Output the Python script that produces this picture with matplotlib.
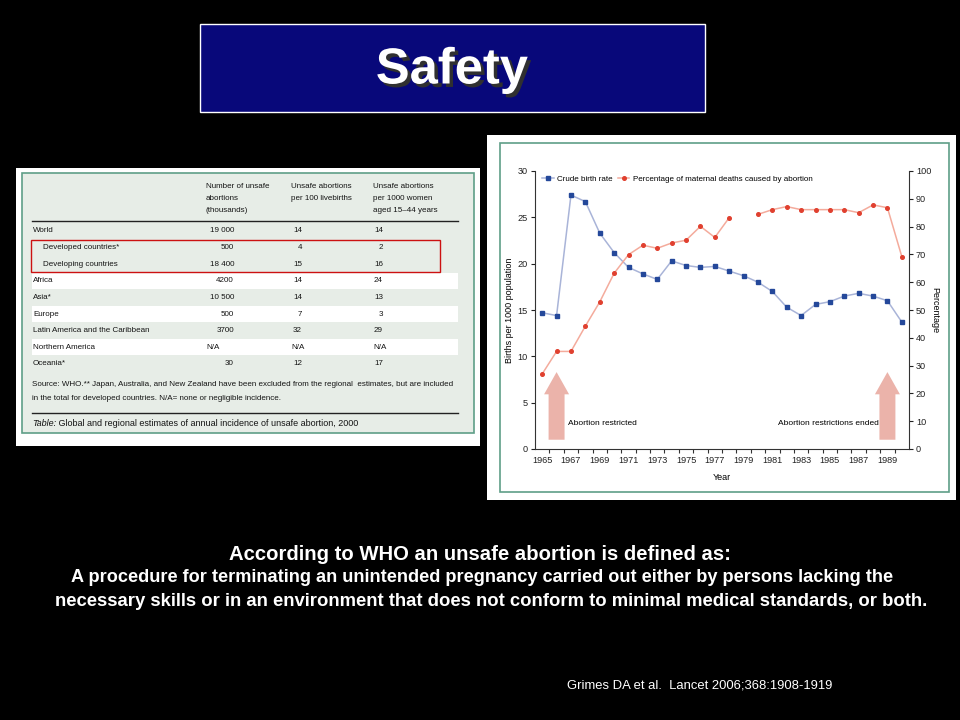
import numpy as np
import matplotlib.pyplot as plt
import matplotlib.patheffects as pe
from matplotlib.patches import Rectangle
from matplotlib.lines import Line2D

# chart data
years = list(range(1965, 1991))
birth_rate = [14.7, 14.4, 27.4, 26.7, 23.3, 21.2, 19.6, 18.9, 18.3, 20.3, 19.8, 19.6, 19.7,
              19.2, 18.7, 18.0, 17.0, 15.3, 14.4, 15.6, 15.9, 16.5, 16.8, 16.5, 16.0, 13.7]
maternal_pct = [27.0, 35.1, 35.1, 44.2, 52.9, 63.2, 69.9, 73.3, 72.2, 74.1, 75.1, 80.1, 76.1,
                83.2, np.nan, 84.4, 86.1, 87.2, 86.1, 86.1, 86.1, 86.1, 85.0, 87.8, 86.8, 69.2]
year_labels = [str(y) for y in range(1965, 1990, 2)]

# table data
regions = ['World', 'Developed countries*', 'Developing countries', 'Africa', 'Asia*',
           'Europe', 'Latin America and the Caribbean', 'Northern America', 'Oceania*']
n_unsafe = ['19 000', '500', '18 400', '4200', '10 500', '500', '3700', 'N/A', '30']
per_100_births = ['14', '4', '15', '14', '14', '7', '32', 'N/A', '12']
per_1000_women = ['14', '2', '16', '24', '13', '3', '29', 'N/A', '17']

NARROW = ['Liberation Sans Narrow', 'Liberation Sans', 'DejaVu Sans']
ARIAL = ['Liberation Sans', 'DejaVu Sans']

fig = plt.figure(figsize=(9.6, 7.2), dpi=100, facecolor='black')

# background layer in pixel coordinates
bg = fig.add_axes([0, 0, 1, 1])
bg.set_xlim(0, 960)
bg.set_ylim(720, 0)
bg.axis('off')

# title box
bg.add_patch(Rectangle((200, 24), 505, 88, fc='#08087a', ec='white', lw=1))
bg.text(452, 70, 'Safety', color='white', fontsize=36.5, fontweight='bold', family=ARIAL,
        ha='center', va='center',
        path_effects=[pe.SimplePatchShadow(offset=(2.5, -2.5), shadow_rgbFace='#303030', alpha=1),
                      pe.Normal()])

# table panel
green = '#5f9e88'
bg.add_patch(Rectangle((16, 168), 464, 278, fc='white', ec='none'))
bg.add_patch(Rectangle((22, 173), 452, 260, fc='#e7ede7', ec=green, lw=1.2))
for i in (3, 5, 7):
    yc = 231 + i * 16.6
    bg.add_patch(Rectangle((32, yc - 8), 426, 16, fc='white', ec='none'))
bg.plot([32, 458], [221, 221], color='#222222', lw=1)
bg.plot([32, 458], [413, 413], color='#222222', lw=1)

tkw = dict(family=NARROW, fontsize=5.8, color='#141414', va='center')
for j, line in enumerate(['Number of unsafe', 'abortions', '(thousands)']):
    bg.text(206, 186 + j * 12.5, line, ha='left', **tkw)
for j, line in enumerate(['Unsafe abortions', 'per 100 livebirths']):
    bg.text(291, 186 + j * 12.5, line, ha='left', **tkw)
for j, line in enumerate(['Unsafe abortions', 'per 1000 women', 'aged 15\u201344 years']):
    bg.text(373, 186 + j * 12.5, line, ha='left', **tkw)

for i, name in enumerate(regions):
    yc = 231 + i * 16.6
    indent = 43 if i in (1, 2) else 33
    bg.text(indent, yc, name, ha='left', **tkw)
    if n_unsafe[i] == 'N/A':
        bg.text(206, yc, n_unsafe[i], ha='left', **tkw)
    else:
        bg.text(234, yc, n_unsafe[i], ha='right', **tkw)
    if per_100_births[i] == 'N/A':
        bg.text(291, yc, per_100_births[i], ha='left', **tkw)
    else:
        bg.text(302, yc, per_100_births[i], ha='right', **tkw)
    if per_1000_women[i] == 'N/A':
        bg.text(373, yc, per_1000_women[i], ha='left', **tkw)
    else:
        bg.text(383, yc, per_1000_women[i], ha='right', **tkw)

bg.add_patch(Rectangle((31, 240), 409, 32, fc='none', ec='#cc1111', lw=1))

bg.text(32, 385, 'Source: WHO.** Japan, Australia, and New Zealand have been excluded from the regional  '
        'estimates, but are included', ha='left', **tkw)
bg.text(32, 398, 'in the total for developed countries. N/A= none or negligible incidence.',
        ha='left', **tkw)
cap = bg.text(32, 424, 'Table:', ha='left', style='italic', family=NARROW, fontsize=6.5,
              color='#141414', va='center')
bg.annotate(' Global and regional estimates of annual incidence of unsafe abortion, 2000',
            xy=(1, 0.5), xycoords=cap, ha='left', va='center', family=NARROW, fontsize=6.5,
            color='#141414')

# chart panel
bg.add_patch(Rectangle((487, 135), 469, 365, fc='white', ec='none'))
bg.add_patch(Rectangle((500, 143), 449, 349, fc='white', ec=green, lw=1.2))

# bottom text
bg.text(480, 555, 'According to WHO an unsafe abortion is defined as:', color='white',
        fontsize=14.6, fontweight='bold', family=ARIAL, ha='center', va='center')
bg.text(482, 578, 'A procedure for terminating an unintended pregnancy carried out either by persons lacking the',
        color='white', fontsize=13.1, fontweight='bold', family=NARROW, ha='center', va='center')
bg.text(491, 601, 'necessary skills or in an environment that does not conform to minimal medical standards, or both.',
        color='white', fontsize=13.3, fontweight='bold', family=NARROW, ha='center', va='center')
bg.text(567, 686, 'Grimes DA et al.  Lancet 2006;368:1908-1919', color='white', fontsize=9.4,
        family=ARIAL, ha='left', va='center')

# the chart itself
ax = fig.add_axes([535 / 960, (720 - 449) / 720, 374 / 960, 278 / 720])
ax.set_facecolor('white')
blue_m, blue_l = '#24489a', '#a9b4d8'
red_m, red_l = '#e0402f', '#f4ab9c'
ax.plot(years, birth_rate, color=blue_l, lw=1.1, marker='s', ms=3.2, mfc=blue_m, mec=blue_m, zorder=3)
ax.set_xlim(1964.5, 1990.5)
ax.set_ylim(0, 30)
ax.set_yticks(range(0, 31, 5))
ax.set_xticks(range(1965, 1990, 2))
ax.set_xticklabels(year_labels)
ax.set_xticks(np.arange(1965.5, 1990, 1), minor=True)
ax.tick_params(axis='x', which='major', length=0, pad=5, labelsize=6.6, colors='#222222')
ax.tick_params(axis='x', which='minor', length=3, width=0.8, direction='out', color='#333333')
ax.tick_params(axis='y', length=3, width=0.8, labelsize=6.6, colors='#222222', pad=2)
for s in ('top', 'right'):
    ax.spines[s].set_visible(False)
for s in ('left', 'bottom'):
    ax.spines[s].set_color('#333333')
    ax.spines[s].set_linewidth(0.8)
ax.set_xlabel('Year', fontsize=6.5, family=NARROW, labelpad=6)
ax.set_ylabel('Births per 1000 population', fontsize=6.5, family=NARROW, labelpad=3)
for lab in ax.get_xticklabels() + ax.get_yticklabels():
    lab.set_family(NARROW)

ax2 = ax.twinx()
ax2.plot(years, maternal_pct, color=red_l, lw=1.1, marker='o', ms=2.6, mfc=red_m, mec=red_m, zorder=3)
ax2.set_ylim(0, 100)
ax2.set_yticks(range(0, 101, 10))
ax2.tick_params(axis='y', length=3, width=0.8, labelsize=6.6, colors='#222222', pad=2)
for s in ('top', 'left', 'bottom'):
    ax2.spines[s].set_visible(False)
ax2.spines['right'].set_color('#333333')
ax2.spines['right'].set_linewidth(0.8)
ax2.set_ylabel('Percentage', fontsize=6.5, family=NARROW, rotation=270, labelpad=6)
for lab in ax2.get_yticklabels():
    lab.set_family(NARROW)

# arrows and notes
arrow_c = '#ebb3aa'
for xa in (1966, 1989):
    ax.annotate('', xy=(xa, 8.3), xytext=(xa, 1.0),
                arrowprops=dict(arrowstyle='simple,head_length=1.6,head_width=1.8,tail_width=1.15',
                                mutation_scale=10, fc=arrow_c, ec='none', shrinkA=0, shrinkB=0))
ax.text(1966.8, 2.8, 'Abortion restricted', fontsize=6, family=NARROW, ha='left', va='center')
ax.text(1988.4, 2.8, 'Abortion restrictions ended', fontsize=6, family=NARROW, ha='right', va='center')

handles = [Line2D([], [], color=blue_l, lw=1.1, marker='s', ms=3.2, mfc=blue_m, mec=blue_m),
           Line2D([], [], color=red_l, lw=1.1, marker='o', ms=2.6, mfc=red_m, mec=red_m)]
ax.legend(handles, ['Crude birth rate', 'Percentage of maternal deaths caused by abortion'],
          loc='upper left', bbox_to_anchor=(0.0, 1.01), ncol=2, frameon=False,
          handlelength=1.4, handletextpad=0.4, columnspacing=0.7,
          prop={'family': NARROW, 'size': 5.8})

fig.savefig('out.png', dpi=100, facecolor='black')
